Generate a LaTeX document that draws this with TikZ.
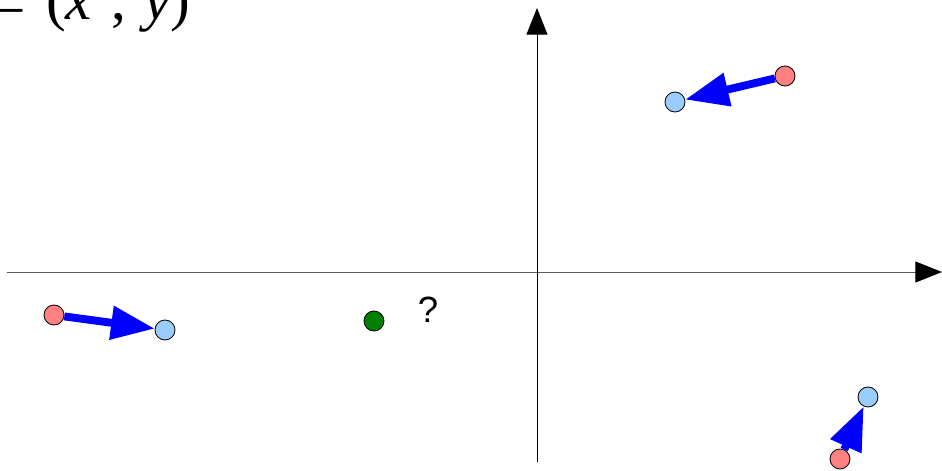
\documentclass[tikz,border=0pt]{standalone}
\usepackage{fontspec}
\setmainfont{Liberation Serif}
\setsansfont{Liberation Sans}
\usetikzlibrary{arrows.meta, positioning}
\definecolor{ptred}{RGB}{255, 128, 128}
\definecolor{ptblue}{RGB}{153, 204, 255}
\definecolor{ptgreen}{RGB}{0, 128, 0}
\definecolor{movblue}{RGB}{0, 0, 255}

\tikzset{
	pt/.style={circle, draw=black, line width=0.6pt, minimum size=0.5cm, inner sep=0pt},
	src/.style={pt, fill=ptred},
	dst/.style={pt, fill=ptblue},
	move/.style={draw=movblue, line width=5.6pt, -{Triangle[length=31pt, width=23pt]}},
	axis/.style={line width=0.7pt, -{Triangle[length=19pt, width=15pt, color=black]}}
}

\begin{document}
\begin{tikzpicture}[x=0.025cm, y=-0.025cm]
	\useasboundingbox (0,0) rectangle (942,470);
	\clip (0,0) rectangle (942,470);
	
	% axes
	\coordinate (xs) at (7,272);
	\coordinate (xe) at (942,272);
	\coordinate (ys) at (537,462);
	\coordinate (ye) at (537,8);
	\draw[axis, draw=black!65] (xs) -- (xe);
	\draw[axis, draw=black] (ys) -- (ye);
	
	\node[anchor=base west, inner sep=0pt, font=\fontsize{42}{46}\selectfont] (lbl) at (-8,19) {\raisebox{-0.2em}{−}\hspace{0.35em}(\textit{x}\hspace{0.07em} , \hspace{0.07em}\textit{y}\/)};
	
	% points
	\node[src] (r1) at (54,315) {};
	\node[dst] (b1) at (165,330) {};
	\node[src] (r2) at (785,76) {};
	\node[dst] (b2) at (675,102) {};
	\node[src] (r3) at (840,459) {};
	\node[dst] (b3) at (868,397) {};
	
	\draw[move] (r1) -- (b1);
	\draw[move] (r2) -- (b2);
	\draw[move] (r3) -- (b3);
	
	\node[pt, fill=ptgreen] (c) at (374,321) {};
	\node[font=\sffamily\fontsize{26}{30}\selectfont, inner sep=0pt] (q) at (428,310) {?};
\end{tikzpicture}
\end{document}
